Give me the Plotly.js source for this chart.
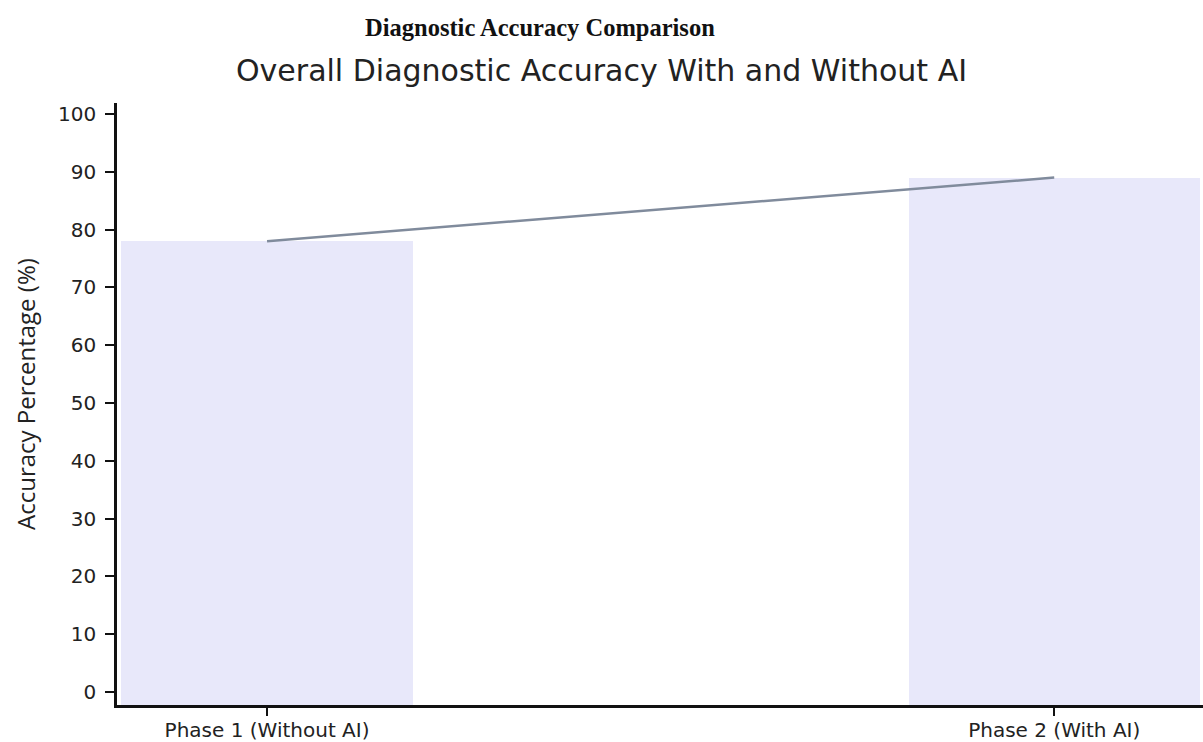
<!DOCTYPE html>
<html>
<head>
<meta charset="utf-8">
<script src="https://cdn.plot.ly/plotly-3.0.1.min.js"></script>
<style>
  html, body { margin: 0; padding: 0; background: #ffffff; }
  #chart { width: 1203px; height: 742px; }
</style>
</head>
<body>
<div id="chart"></div>
<script>
// Overall diagnostic accuracy, without vs. with AI assistance
const categories = ['Phase 1 (Without AI)', 'Phase 2 (With AI)'];
const accuracy = [78, 89];
const yTickValues = [0, 10, 20, 30, 40, 50, 60, 70, 80, 90, 100];

// Axis extent: the frame sits a little below zero and above 100
const Y_MIN = -2.25;
const Y_MAX = 101.9;

const bars = {
  type: 'bar',
  x: categories,
  y: accuracy.map(v => v - Y_MIN),
  base: Y_MIN,
  width: 0.37,
  marker: { color: '#e8e8fa', line: { width: 0 } },
  hovertemplate: '%{x}: %{customdata}%<extra></extra>',
  customdata: accuracy,
  showlegend: false
};

const trend = {
  type: 'scatter',
  mode: 'lines',
  x: categories,
  y: accuracy,
  line: { color: '#808b9c', width: 2.5 },
  hoverinfo: 'skip',
  showlegend: false
};

const sans = 'DejaVu Sans, Verdana, sans-serif';

const layout = {
  width: 1203,
  height: 742,
  margin: { l: 117, r: 0, t: 103, b: 37 },
  paper_bgcolor: '#ffffff',
  plot_bgcolor: '#ffffff',
  title: {
    text: 'Overall Diagnostic Accuracy With and Without AI',
    font: { family: sans, size: 30, color: '#222222' },
    xref: 'container', x: 0.5, xanchor: 'center',
    yref: 'container', y: 1 - 70 / 742, yanchor: 'middle'
  },
  annotations: [
    {
      text: '<b>Diagnostic Accuracy Comparison</b>',
      xref: 'paper', yref: 'paper',
      x: (540 - 117) / 1086, y: (705 - 27) / 602,
      xanchor: 'center', yanchor: 'middle',
      showarrow: false,
      font: { family: 'Liberation Serif, Times New Roman, serif', size: 24.5, color: '#111111' }
    },
    {
      // y-axis title
      text: 'Accuracy Percentage (%)',
      textangle: -90,
      xref: 'paper', yref: 'paper',
      x: (25 - 117) / 1086, y: (705 - 394) / 602,
      xanchor: 'center', yanchor: 'middle',
      showarrow: false,
      font: { family: 'Open Sans, sans-serif', size: 24, color: '#222222' }
    }
  ],
  xaxis: {
    type: 'category',
    range: [-0.1906, 1.189],
    showline: true, linecolor: '#111111', linewidth: 2.5,
    ticks: 'outside', ticklen: 8, tickwidth: 2, tickcolor: '#111111',
    showgrid: false, zeroline: false,
    tickfont: { family: sans, size: 20, color: '#222222' },
    ticklabelstandoff: -3,
    fixedrange: true
  },
  yaxis: {
    range: [Y_MIN, Y_MAX],
    tickmode: 'array', tickvals: yTickValues,
    showline: true, linecolor: '#111111', linewidth: 2.5,
    ticks: 'outside', ticklen: 9, tickwidth: 2, tickcolor: '#111111',
    showgrid: false, zeroline: false,
    tickfont: { family: sans, size: 20, color: '#222222' },
    ticklabelstandoff: 5,
    fixedrange: true
  },
  bargap: 0,
  hovermode: 'closest'
};

Plotly.newPlot('chart', [bars, trend], layout, { displayModeBar: false, responsive: false });
</script>
</body>
</html>
